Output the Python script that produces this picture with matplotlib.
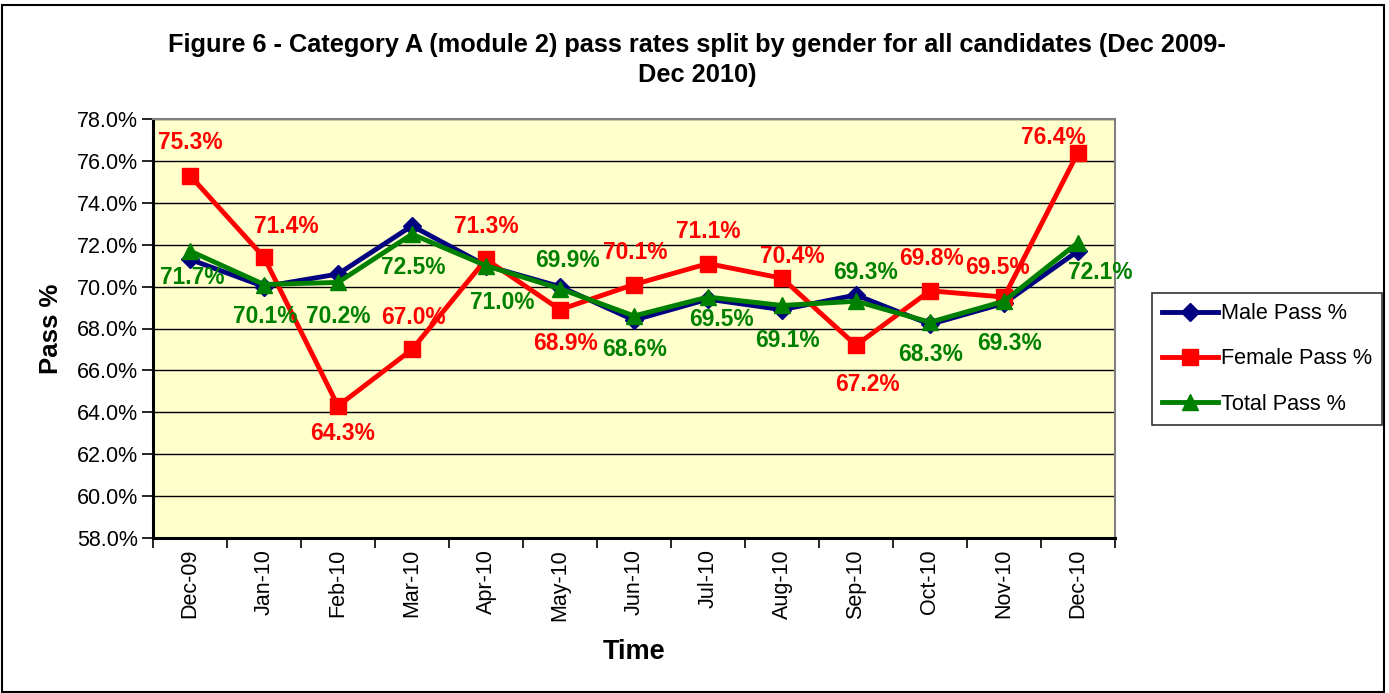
import matplotlib.pyplot as plt
from matplotlib.patches import Rectangle
from matplotlib.ticker import FixedLocator, FuncFormatter
import numpy as np

plt.rcParams['font.family'] = ['Liberation Sans', 'DejaVu Sans']

months = ["Dec-09", "Jan-10", "Feb-10", "Mar-10", "Apr-10", "May-10", "Jun-10",
          "Jul-10", "Aug-10", "Sep-10", "Oct-10", "Nov-10", "Dec-10"]
male = [71.3, 70.0, 70.6, 72.9, 71.0, 70.0, 68.4, 69.4, 68.9, 69.6, 68.2, 69.2, 71.7]
female = [75.3, 71.4, 64.3, 67.0, 71.3, 68.9, 70.1, 71.1, 70.4, 67.2, 69.8, 69.5, 76.4]
total = [71.7, 70.1, 70.2, 72.5, 71.0, 69.9, 68.6, 69.5, 69.1, 69.3, 68.3, 69.3, 72.1]

# label offsets in pixels (hand placed, like the original)
female_off = [(0, 33), (22, 31), (5, -27), (1, 32), (0, 33), (5, -34), (1, 32),
              (0, 32), (10, 22), (11, -39), (1, 32), (-7, 30), (-25, 15)]
total_off = [(2, -27), (1, -32), (0, -34), (1, -33), (16, -37), (7, 28), (1, -34),
             (13, -22), (5, -35), (10, 29), (1, -32), (6, -42), (22, -30)]

fig = plt.figure(figsize=(13.89, 6.93), dpi=100)
ax = fig.add_axes([153 / 1389, 1 - 538 / 693, 962 / 1389, 419 / 693])
ax.set_facecolor("#FFFFCC")

x = np.arange(len(months))
ax.plot(x, male, color="#000080", lw=3.5, marker="D", ms=9, label="Male Pass %", zorder=3)
ax.plot(x, female, color="#FF0000", lw=3.5, marker="s", ms=11, label="Female Pass %", zorder=4)
ax.plot(x, total, color="#008000", lw=3.5, marker="^", ms=11, label="Total Pass %", zorder=5)

for i in range(len(months)):
    ax.annotate("%.1f%%" % female[i], (x[i], female[i]), xytext=female_off[i],
                textcoords="offset pixels", ha="center", va="center",
                color="#FF0000", fontsize=16.4, fontweight="bold", zorder=6)
    ax.annotate("%.1f%%" % total[i], (x[i], total[i]), xytext=total_off[i],
                textcoords="offset pixels", ha="center", va="center",
                color="#008000", fontsize=16.4, fontweight="bold", zorder=6)

ax.set_xlim(-0.5, len(months) - 0.5)
ax.set_ylim(58, 78)
ax.set_yticks(np.arange(58, 78.1, 2))
ax.yaxis.set_major_formatter(FuncFormatter(lambda v, p: "%.1f%%" % v))
ax.grid(axis="y", color="black", lw=1)
ax.set_axisbelow(True)

ax.set_xticks(x)
ax.set_xticklabels(months, rotation=90)
ax.xaxis.set_minor_locator(FixedLocator(np.arange(-0.5, len(months), 1)))
ax.tick_params(axis="x", which="major", length=0, labelsize=15.5, pad=8)
ax.tick_params(axis="x", which="minor", length=7, width=1.2, direction="out")
ax.tick_params(axis="y", length=8, width=1.2, labelsize=15.5, pad=3)

for s in ["left", "bottom"]:
    ax.spines[s].set_linewidth(2.2)
for s in ["top", "right"]:
    ax.spines[s].set_color("#808080")
    ax.spines[s].set_linewidth(1.5)

ax.set_xlabel("Time", fontsize=19.5, fontweight="bold", labelpad=13)
ax.set_ylabel("Pass %", fontsize=18.5, fontweight="bold", labelpad=10)

fig.text(0.5 * (168 + 1226) / 1389, 1 - 60 / 693,
         "Figure 6 - Category A (module 2) pass rates split by gender for all candidates (Dec 2009-\nDec 2010)",
         ha="center", va="center", fontsize=18.3, fontweight="bold", linespacing=1.32)

leg = ax.legend(loc="center", bbox_to_anchor=(1267 / 1389, 1 - 359 / 693),
                bbox_transform=fig.transFigure, fontsize=15.6, frameon=True,
                fancybox=False, edgecolor="black", handlelength=2.6,
                handletextpad=0.15, labelspacing=1.12, borderpad=0.45,
                borderaxespad=0)
leg.get_frame().set_linewidth(1.2)

fig.patches.append(Rectangle((2 / 1389, 1 / 693), 1382 / 1389, 687 / 693,
                             transform=fig.transFigure, fill=False,
                             edgecolor="black", lw=1.5))

plt.savefig("out.png")
